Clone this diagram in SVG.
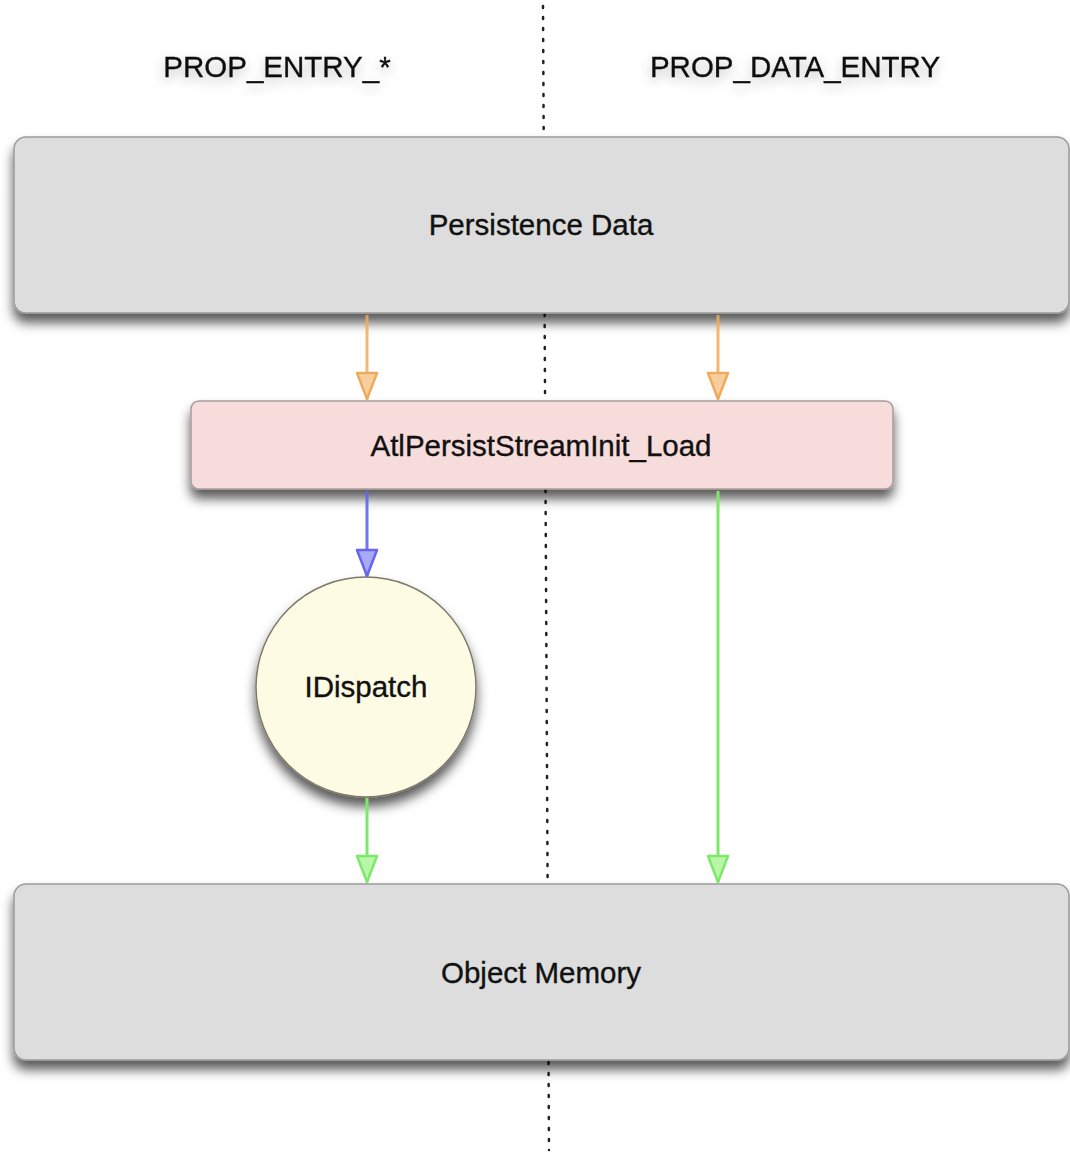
<svg xmlns="http://www.w3.org/2000/svg" width="1070" height="1152" viewBox="0 0 1070 1152">
  <style>
    .lbl { font-family: "Liberation Sans", Arial, sans-serif; font-size: 29.5px; fill: #111; text-anchor: middle; stroke: #111; stroke-width: 0.35px; }
    .box { fill: #dddddd; stroke: #9a9a9a; stroke-width: 1.5; }
    .sep { stroke: #222; stroke-width: 2.5; stroke-dasharray: 2 9; stroke-linecap: round; fill: none; }
    .edge { fill: none; stroke-width: 3; }
  </style>
  <defs>
    <filter id="shadow" x="-10%" y="-20%" width="120%" height="150%">
      <feDropShadow dx="0" dy="9" stdDeviation="6" flood-color="#000" flood-opacity="0.65"/>
    </filter>
    <filter id="glow" x="-20%" y="-60%" width="140%" height="240%">
      <feDropShadow dx="0" dy="5" stdDeviation="6" flood-color="#000" flood-opacity="0.25"/>
    </filter>
    <marker id="arrOrange" markerWidth="30" markerHeight="24" refX="28" refY="12" orient="auto" markerUnits="userSpaceOnUse" viewBox="0 0 30 24">
      <path d="M2 2 L2 22 L28 12 Z" fill="#f7cf9f" stroke="#f0aa5c" stroke-width="2.5" stroke-linejoin="round"/>
    </marker>
    <marker id="arrBlue" markerWidth="30" markerHeight="24" refX="28" refY="12" orient="auto" markerUnits="userSpaceOnUse" viewBox="0 0 30 24">
      <path d="M2 2 L2 22 L28 12 Z" fill="#a9a9f7" stroke="#6565ee" stroke-width="2.5" stroke-linejoin="round"/>
    </marker>
    <marker id="arrGreen" markerWidth="30" markerHeight="24" refX="28" refY="12" orient="auto" markerUnits="userSpaceOnUse" viewBox="0 0 30 24">
      <path d="M2 2 L2 22 L28 12 Z" fill="#b8f7a8" stroke="#7ee86a" stroke-width="2.5" stroke-linejoin="round"/>
    </marker>
  </defs>

  <rect width="1070" height="1152" fill="#ffffff"/>

  <!-- dotted divider between the two columns -->
  <line class="sep" x1="543" y1="6" x2="549" y2="1150"/>

  <!-- column headings -->
  <g id="heading-left" filter="url(#glow)">
    <text class="lbl" x="277" y="77">PROP_ENTRY_*</text>
  </g>
  <g id="heading-right" filter="url(#glow)">
    <text class="lbl" x="795" y="77">PROP_DATA_ENTRY</text>
  </g>

  <!-- nodes -->
  <g id="persistence-data">
    <rect class="box" x="14" y="137" width="1055" height="176" rx="12" filter="url(#shadow)"/>
    <text class="lbl" x="541" y="235">Persistence Data</text>
  </g>

  <g id="load">
    <rect x="191" y="401" width="702" height="88" rx="8" fill="#f6dcda" stroke="#a89a99" stroke-width="1.5" filter="url(#shadow)"/>
    <text class="lbl" x="541" y="456">AtlPersistStreamInit_Load</text>
  </g>

  <g id="idispatch">
    <circle cx="366" cy="687" r="110" fill="#fdfbe3" stroke="#7e7a6a" stroke-width="1.5" filter="url(#shadow)"/>
    <text class="lbl" x="366" y="697">IDispatch</text>
  </g>

  <g id="object-memory">
    <rect class="box" x="14" y="884" width="1055" height="176" rx="12" filter="url(#shadow)"/>
    <text class="lbl" x="541" y="983">Object Memory</text>
  </g>

  <!-- connectors -->
  <g id="connectors">
    <line class="edge" x1="367" y1="315" x2="367" y2="399" stroke="#f0aa5c" stroke-opacity="0.85" marker-end="url(#arrOrange)"/>
    <line class="edge" x1="718" y1="315" x2="718" y2="399" stroke="#f0aa5c" stroke-opacity="0.85" marker-end="url(#arrOrange)"/>
    <line class="edge" x1="367" y1="491" x2="367" y2="576" stroke="#6565ee" stroke-opacity="0.9" marker-end="url(#arrBlue)"/>
    <line class="edge" x1="367" y1="798" x2="367" y2="882" stroke="#7ee86a" marker-end="url(#arrGreen)"/>
    <line class="edge" x1="718" y1="491" x2="718" y2="882" stroke="#7ee86a" marker-end="url(#arrGreen)"/>
  </g>
</svg>
